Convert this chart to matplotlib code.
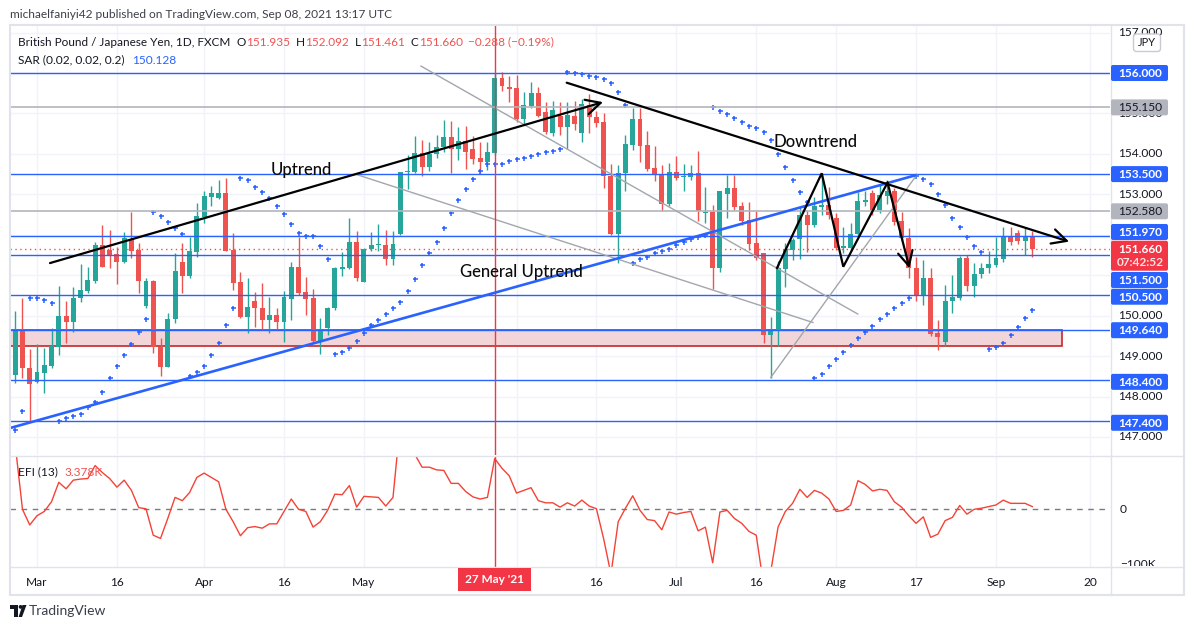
import matplotlib
matplotlib.use('Agg')
import matplotlib.pyplot as plt
import numpy as np
import pandas as pd
from matplotlib.patches import Rectangle, FancyBboxPatch, Polygon, Circle
from matplotlib.transforms import Bbox

plt.rcParams['font.family'] = ['Lato', 'DejaVu Sans']

# ---------------- data ----------------
dates = pd.bdate_range('2021-02-24', '2021-09-08')

opens = [148.52, 149.65, 148.70, 148.37, 148.59, 148.76, 149.23, 149.99, 149.85, 150.43,
         150.61, 150.86, 151.75, 151.62, 151.52, 151.33, 151.90, 151.62, 150.24, 150.86,
         149.23, 148.74, 149.91, 151.32, 150.98, 151.58, 152.45, 152.94, 152.92, 153.03,
         151.62, 150.84, 149.97, 150.37, 150.18, 149.89, 150.02, 149.85, 150.41, 151.20,
         150.58, 150.44, 149.37, 149.70, 150.18, 151.15, 151.19, 151.81, 150.83, 151.65,
         151.74, 151.75, 151.40, 152.02, 153.545, 153.545, 154.03, 153.68, 153.99, 154.16,
         154.41, 154.11, 154.32, 154.11, 153.91, 153.81, 154.03, 155.87, 155.65, 155.62,
         154.86, 155.19, 155.51, 155.04, 154.52, 154.94, 154.66, 154.94, 154.52, 155.21,
         154.90, 154.78, 153.45, 152.02, 153.535, 154.22, 154.86, 154.22, 153.66, 153.48,
         152.76, 153.545, 153.42, 153.44, 153.52, 152.53, 152.57, 151.19, 153.01, 153.16,
         152.71, 152.37, 151.80, 151.555, 149.52, 149.63, 151.15, 151.62, 151.90, 152.49,
         152.24, 152.69, 152.74, 152.41, 151.67, 151.67, 152.02, 152.82, 153.04, 152.60,
         152.97, 153.08, 152.34, 151.91, 151.17, 150.49, 150.94, 149.58, 149.36, 150.35,
         150.43, 151.42, 150.73, 151.03, 151.19, 151.25, 151.40, 151.95, 152.05, 151.85,
         151.935]
highs = [150.12, 150.44, 149.17, 149.29, 149.19, 149.69, 150.73, 150.36, 150.70, 151.28,
         151.20, 151.83, 152.24, 152.12, 151.70, 152.06, 152.57, 151.80, 150.92, 150.88,
         149.45, 150.06, 151.54, 151.80, 151.95, 152.78, 153.07, 153.21, 153.35, 153.40,
         152.05, 151.07, 150.92, 150.58, 150.81, 150.45, 150.18, 150.61, 151.33, 151.95,
         150.95, 150.65, 149.95, 150.21, 151.21, 151.58, 152.42, 152.10, 151.68, 152.06,
         152.26, 152.12, 152.10, 153.56, 153.97, 154.44, 154.34, 154.30, 154.47, 154.84,
         154.81, 154.67, 154.69, 154.43, 154.30, 154.30, 156.00, 156.03, 155.93, 155.95,
         155.52, 155.78, 155.66, 155.29, 155.31, 155.29, 155.28, 155.32, 155.35, 155.47,
         155.07, 155.00, 153.75, 153.72, 154.47, 155.14, 155.14, 154.57, 154.20, 153.72,
         153.77, 153.95, 153.74, 153.72, 154.07, 153.19, 152.74, 153.08, 153.48, 153.48,
         152.80, 152.80, 152.59, 151.56, 149.97, 151.35, 151.79, 151.91, 152.69, 152.61,
         152.94, 153.52, 153.19, 152.55, 152.20, 152.28, 153.06, 153.07, 153.11, 153.25,
         153.35, 153.15, 152.57, 152.16, 151.46, 151.37, 151.19, 149.89, 150.76, 151.00,
         151.47, 151.50, 151.29, 151.29, 151.60, 151.95, 152.20, 152.20, 152.12, 152.20,
         152.092]
lows = [148.33, 148.47, 147.39, 148.33, 148.09, 148.70, 149.03, 149.33, 149.60, 150.34,
        150.57, 150.80, 151.21, 151.19, 150.78, 151.29, 151.43, 150.55, 150.18, 149.07,
        148.51, 148.73, 149.81, 150.57, 150.94, 151.46, 152.28, 152.71, 152.88, 151.60,
        150.63, 149.94, 149.58, 149.73, 149.66, 149.56, 149.66, 149.36, 149.88, 150.50,
        150.02, 149.33, 149.04, 149.52, 150.15, 150.98, 151.15, 150.86, 150.82, 151.60,
        151.60, 151.24, 151.24, 152.00, 153.12, 153.52, 153.46, 153.58, 153.90, 154.05,
        153.52, 153.85, 153.62, 153.75, 153.52, 153.60, 153.97, 155.56, 155.29, 154.80,
        154.74, 155.13, 154.90, 154.50, 154.45, 154.47, 154.11, 154.60, 154.30, 154.52,
        154.67, 153.15, 152.00, 151.29, 153.07, 154.10, 153.81, 153.58, 153.34, 152.59,
        152.70, 153.35, 153.08, 153.35, 152.34, 152.28, 150.65, 151.09, 152.41, 152.60,
        152.25, 151.62, 151.38, 149.32, 148.45, 149.25, 150.72, 151.38, 151.39, 151.58,
        152.20, 152.49, 152.40, 151.62, 151.55, 151.60, 151.95, 152.70, 152.50, 152.55,
        152.76, 152.25, 151.85, 150.92, 150.35, 150.26, 149.50, 149.15, 149.25, 150.06,
        150.38, 150.60, 150.45, 150.92, 151.05, 151.20, 151.33, 151.75, 151.77, 151.50,
        151.461]
closes = [149.65, 148.70, 148.30, 148.60, 148.78, 149.25, 149.99, 149.85, 150.43, 150.63,
          150.88, 151.75, 151.21, 151.50, 151.33, 151.91, 151.61, 150.86, 150.86, 149.22,
          148.74, 149.91, 151.10, 150.99, 151.60, 152.46, 152.96, 153.03, 153.04, 151.61,
          150.81, 149.97, 150.21, 150.18, 149.89, 150.02, 149.85, 150.47, 151.20, 150.55,
          150.41, 149.37, 149.63, 150.20, 151.17, 151.20, 151.81, 150.92, 151.66, 151.75,
          151.76, 151.40, 151.77, 153.54, 153.58, 154.03, 153.68, 153.99, 154.16, 154.41,
          154.11, 154.32, 154.05, 153.87, 153.81, 154.05, 155.87, 155.68, 155.60, 154.86,
          155.21, 155.51, 154.94, 154.55, 155.085, 154.66, 154.96, 154.73, 155.23, 154.90,
          154.77, 153.45, 152.02, 153.535, 154.24, 154.86, 154.20, 153.63, 153.50, 152.76,
          153.545, 153.41, 153.46, 153.52, 152.59, 152.57, 151.19, 153.08, 153.16, 152.69,
          152.34, 151.77, 151.42, 149.52, 149.645, 151.17, 151.64, 151.87, 152.49, 152.24,
          152.71, 152.74, 152.49, 151.67, 151.71, 152.02, 152.83, 152.86, 152.60, 152.98,
          153.08, 152.32, 151.91, 151.17, 150.51, 150.94, 149.55, 149.48, 150.36, 150.47,
          151.42, 150.73, 151.02, 151.17, 151.28, 151.42, 151.95, 151.81, 151.85, 151.95,
          151.66]
sar = [147.17, 147.64, 150.43, 150.43, 150.39, 150.31, 147.39, 147.46, 147.53, 147.58,
       147.73, 147.87, 148.12, 148.45, 148.75, 149.03, 149.29, 149.60, 149.91, 152.56,
       152.47, 152.31, 152.16, 152.01, 148.51, 148.60, 148.75, 149.03, 149.33, 149.77,
       150.18, 153.40, 153.35, 153.17, 153.05, 152.90, 152.71, 152.51, 152.26, 152.04,
       151.97, 151.97, 151.72, 151.39, 149.04, 149.09, 149.19, 149.38, 149.56, 149.77,
       149.89, 150.03, 150.18, 150.33, 150.61, 150.90, 151.25, 151.56, 151.83, 152.16,
       152.53, 152.86, 153.12, 153.38, 153.58, 153.74, 153.75, 153.76, 153.82, 153.87,
       153.89, 153.95, 153.99, 154.05, 154.08, 154.11, 156.03, 156.01, 155.97, 155.93,
       155.89, 155.85, 155.76, 155.52, 155.21, 151.29, 151.39, 151.46, 151.54, 151.61,
       151.64, 151.75, 151.83, 151.90, 151.95, 152.00, 155.17, 155.06, 154.99, 154.88,
       154.78, 154.70, 154.63, 154.55, 154.34, 153.99, 153.67, 153.35, 153.05, 152.80,
       148.45, 148.55, 148.75, 148.92, 149.09, 149.27, 149.44, 149.60, 149.75, 149.91,
       150.03, 150.18, 150.31, 150.43, 153.45, 153.37, 153.26, 153.02, 152.74, 152.42,
       152.18, 151.95, 151.72, 151.58, 149.17, 149.22, 149.33, 149.51, 149.73, 149.93,
       150.13]
efi_k = [120, 0, -29, -12, -4, 14, 50, 38, 54, 56,
         57, 81, 68, 57, 41, 54, 35, 3, 1, -48,
         -54, -17, 22, 16, 31, 59, 67, 59, 51, 0,
         -23, -49, -34, -32, -35, -27, -27, -4, 19, 0,
         -4, -33, -23, -2, 28, 27, 44, 4, 24, 23,
         22, 6, 22, 160, 140, 102, 78, 78, 73, 72,
         48, 48, 33, 23, 19, 22, 94, 76, 62, 30,
         35, 40, 16, 12, 12, 4, 12, 6, 17, 6,
         1, -55, -120, -23, 2, 25, -2, -19, -21, -38,
         -5, -9, -6, -4, -40, -33, -99, -5, -2, -17,
         -26, -41, -48, -140, -115, -33, -4, 11, 37, 22,
         35, 30, 19, -4, -2, 8, 53, 46, 34, 37,
         35, 14, 4, -12, -26, -14, -52, -46, -21, -15,
         7, -9, 0, 2, 5, 8, 17, 11, 11, 11,
         5]

blue_levels = [156.0, 153.5, 151.97, 151.5, 150.5, 149.64, 148.4, 147.4]
gray_levels = [155.15, 152.58]
last_price = 151.66
zone_low, zone_high = 149.25, 149.64

tick_dates = ['2021-03-01', '2021-03-16', '2021-04-01', '2021-04-16', '2021-05-03', '2021-06-01',
              '2021-06-16', '2021-07-01', '2021-07-16', '2021-08-02', '2021-08-17', '2021-09-01',
              '2021-09-20']
tick_labels = ['Mar', '16', 'Apr', '16', 'May', '', '16', 'Jul', '16', 'Aug', '17', 'Sep', '20']
marked_date = '2021-05-27'
marked_label = "27 May '21"

# drawings (bar position, price)
uptrend_line = [(4.79, 151.30), (80.91, 155.28)]
downtrend_line = [(75.91, 155.76), (145.06, 151.83)]
general_line = [(-0.72, 147.22), (124.09, 153.48)]
gray_lines = [[(55.86, 156.17), (115.97, 150.04)],
              [(47.14, 153.48), (109.81, 149.83)],
              [(103.99, 148.47), (124.09, 153.48)]]
zigzag = [(104.86, 151.18), (111.01, 153.52), (113.98, 151.21), (120.07, 153.29), (123.1, 151.17)]
zone_x = (-6.0, 144.13)
labels_draw = [("Uptrend", 35.2, 153.60), ("General Uptrend", 61.22, 151.08), ("Downtrend", 104.31, 154.29)]

# ---------------- figure ----------------
W, H = 1194, 630
fig = plt.figure(figsize=(W / 100, H / 100), dpi=100)
fig.patch.set_facecolor('white')

ax = fig.add_axes([10 / W, 1 - 455 / H, 1100 / W, 430 / H])
ax2 = fig.add_axes([10 / W, 1 - 567 / H, 1100 / W, 111 / H], sharex=ax)
ov = fig.add_axes([0, 0, 1, 1])
ov.set_xlim(0, W)
ov.set_ylim(H, 0)
ov.axis('off')
ov.patch.set_visible(False)
ov.set_zorder(10)

GREEN, RED, BLUE, GRAY = '#26a69a', '#ef5350', '#2962ff', '#b2b5be'
TXT = '#131722'
GRID = '#f0f3fa'

n = len(dates)
pos = np.arange(n)
o, h, l, c = map(np.array, (opens, highs, lows, closes))
cols = np.where(c >= o, GREEN, RED)


def date_pos(d):
    d = pd.Timestamp(d)
    if d in dates:
        return int(dates.get_loc(d))
    return n - 1 + len(pd.bdate_range(dates[-1], d)) - 1


tpos = [date_pos(d) for d in tick_dates]
mpos = date_pos(marked_date)

for a in (ax, ax2):
    for s in a.spines.values():
        s.set_visible(False)
    a.set_facecolor('white')
    a.set_xticks(tpos)
    a.grid(axis='x', color=GRID, lw=1, zorder=0)
    a.set_axisbelow(True)

ax.set_xlim(-0.716, 150.69)
ax.set_ylim(146.554, 157.187)
ax.set_yticks(np.arange(147, 158, 1))
ax.grid(axis='y', color=GRID, lw=1, zorder=0)
ax.tick_params(left=False, labelleft=False, bottom=False, labelbottom=False)

# zone
ax.add_patch(Rectangle((zone_x[0], zone_low), zone_x[1] - zone_x[0], zone_high - zone_low,
                       facecolor='#f2d5d8', edgecolor='#c62828', lw=1.2, zorder=1))

# candles
ax.vlines(pos, l, h, colors=cols, lw=1, zorder=2)
body_b = np.minimum(o, c)
body_h = np.maximum(np.abs(c - o), 0.03)
ax.bar(pos, body_h, bottom=body_b, width=0.68, color=cols, zorder=2.5, linewidth=0)

# SAR
ax.plot(pos, sar, ls='none', marker='+', ms=3.6, mew=1.1, color=BLUE, zorder=3)

# horizontal levels
for lv in blue_levels:
    ax.axhline(lv, color=BLUE, lw=1, zorder=4)
for lv in gray_levels:
    ax.axhline(lv, color=GRAY, lw=1.2, zorder=4)
ax.axhline(last_price, color=RED, lw=1, ls=(0, (1, 2.5)), zorder=4)

# gray trend lines
for seg in gray_lines:
    xs, ys = zip(*seg)
    ax.plot(xs, ys, color='#a3a6ad', lw=1, zorder=4)

# general uptrend
xs, ys = zip(*general_line)
ax.plot(xs, ys, color=BLUE, lw=1.9, zorder=4.5, solid_capstyle='butt')

arrow_kw = dict(arrowstyle='->,head_length=0.75,head_width=0.38', color='black', lw=1.6,
                shrinkA=0, shrinkB=0, mutation_scale=14)
ax.annotate('', xy=uptrend_line[1], xytext=uptrend_line[0], arrowprops=arrow_kw, zorder=5)
ax.annotate('', xy=downtrend_line[1], xytext=downtrend_line[0], arrowprops=arrow_kw, zorder=5)
zx, zy = zip(*zigzag)
ax.plot(zx[:-1], zy[:-1], color='black', lw=1.6, zorder=5, solid_joinstyle='miter')
ax.annotate('', xy=zigzag[-1], xytext=zigzag[-2], arrowprops=arrow_kw, zorder=5)

for t, x0, y0 in labels_draw:
    ax.text(x0, y0, t, fontsize=12, color='#0b0b0b', ha='left', va='center', zorder=6,
            fontweight='medium')

ax.axvline(mpos, color='#f23645', lw=1, zorder=4)

# EFI
ax2.set_ylim(-106.9, 98.7)
ax2.set_yticks([])
ax2.tick_params(left=False, length=0, pad=7, labelsize=8.6, labelcolor=TXT)
ax2.set_xticklabels(tick_labels)
ax2.axhline(0, color='#787b86', lw=1, ls=(0, (4, 4)), zorder=2)
ax2.plot(pos, efi_k, color='#f44336', lw=1, zorder=3)
ax2.axvline(mpos, color='#f23645', lw=1, zorder=4)


def ypix(a, v):
    return H - a.transData.transform((0, v))[1]


def xpix(a, v):
    return a.transData.transform((v, 0))[0]


# ---------------- frame ----------------
BORDER = '#e0e3eb'
ov.add_patch(Rectangle((10, 25), 1174, 570, fill=False, ec=BORDER, lw=1.5, zorder=1))
ov.plot([10, 1184], [456, 456], color=BORDER, lw=1, zorder=1)
ov.plot([10, 1184], [567, 567], color=BORDER, lw=1, zorder=1)
ov.plot([1110.5, 1110.5], [25, 595], color=BORDER, lw=1, zorder=1)

# ---------------- right axis labels ----------------
BX0, BW, BH = 1111, 57, 16
TXC = 1140.5
for v in [157, 155, 154, 153, 150, 149, 148, 147]:
    ov.text(TXC, ypix(ax, v), f'{v:.3f}', fontsize=8.6, color=TXT, ha='center', va='center', zorder=2)

box_labels = [(156.0, BLUE, 0), (155.15, GRAY, 0), (153.5, BLUE, 0), (152.58, GRAY, 0),
              (151.97, BLUE, -4), (151.5, BLUE, 25), (150.5, BLUE, 1.3), (149.64, BLUE, 0),
              (148.4, BLUE, 1.5), (147.4, BLUE, 2)]
for v, colr, dy in box_labels:
    yc = ypix(ax, v) + dy
    ov.add_patch(FancyBboxPatch((BX0, yc - BH / 2), BW, BH, boxstyle='round,pad=0,rounding_size=2',
                                fc=colr, ec='none', zorder=3))
    ov.text(TXC, yc + 0.3, f'{v:.3f}', fontsize=8.6, ha='center', va='center', zorder=4,
            color='white' if colr == BLUE else TXT, weight='bold' if colr == BLUE else 'normal')

yc = ypix(ax, last_price) + 7.2
ov.add_patch(FancyBboxPatch((BX0, yc - 15), BW, 30, boxstyle='round,pad=0,rounding_size=2',
                            fc='#f23645', ec='none', zorder=3))
ov.text(TXC, yc - 6.5, f'{last_price:.3f}', fontsize=8.6, ha='center', va='center', color='white',
        weight='bold', zorder=4)
ov.text(TXC, yc + 7, '07:42:52', fontsize=8.6, ha='center', va='center', color='#fde3e3',
        weight='bold', zorder=4)

ov.add_patch(FancyBboxPatch((1133.5, 34), 27, 17.5, boxstyle='round,pad=0,rounding_size=3',
                            fc='white', ec='#c8cbd3', lw=1, zorder=3))
ov.text(1147, 43, 'JPY', fontsize=8, ha='center', va='center', color=TXT, zorder=4)

# EFI axis labels
ov.text(1120, ypix(ax2, 0), '0', fontsize=8.6, ha='left', va='center', color=TXT, zorder=2)
t = ov.text(1120, ypix(ax2, -100) + 1, '\u2212100K', fontsize=8.6, ha='left', va='center', color=TXT, zorder=2)
t.set_clip_box(Bbox([[1111, H - 566], [1184, H - 457]]))
t.set_clip_on(True)

# marked date box on time axis
mx = xpix(ax, mpos)
ov.add_patch(Rectangle((mx - 36.5, 567.5), 73, 23.5, fc='#f23645', ec='none', zorder=3))
ov.text(mx, 579.5, marked_label, fontsize=8.6, ha='center', va='center', color='white',
        weight='bold', zorder=4)

# ---------------- header / legends ----------------
renderer = fig.canvas.get_renderer()


def seq_text(x, y, pieces, size):
    for s, colr, gap in pieces:
        tt = ov.text(x, y, s, color=colr, fontsize=size, ha='left', va='center', zorder=4)
        bb = tt.get_window_extent(renderer=renderer)
        x += bb.width + gap


ov.text(10, 15, 'michaelfaniyi42 published on TradingView.com, Sep 08, 2021 13:17 UTC',
        fontsize=8.6, color='#3d404a', ha='left', va='center')
seq_text(18, 42, [('British Pound / Japanese Yen, 1D, FXCM', TXT, 6),
                  ('O', TXT, 0.5), ('151.935', RED, 5.5),
                  ('H', TXT, 0.5), ('152.092', RED, 5.5),
                  ('L', TXT, 0.5), ('151.461', RED, 5.5),
                  ('C', TXT, 0.5), ('151.660', RED, 5.5),
                  ('\u22120.288 (\u22120.19%)', RED, 0)], 8.5)
seq_text(18, 60, [('SAR (0.02, 0.02, 0.2)', TXT, 8), ('150.128', BLUE, 0)], 8.6)
seq_text(18, 472, [('EFI (13)', TXT, 7), ('3.378K', RED, 0)], 8.6)

# TradingView logo
ov.add_patch(Polygon([(10, 605), (18, 605), (18, 617), (14.2, 617), (14.2, 608.6), (10, 608.6)],
                     closed=True, fc='#131722', ec='none'))
ov.add_patch(Circle((20.6, 606.9), 1.9, fc='#131722', ec='none'))
ov.add_patch(Polygon([(22.5, 605), (26.5, 605), (22.0, 617), (18.6, 617)], closed=True, fc='#131722', ec='none'))
ov.text(29, 611, 'TradingView', fontsize=10, color='#3a3e49', ha='left', va='center')

fig.savefig('out.png', dpi=100)
